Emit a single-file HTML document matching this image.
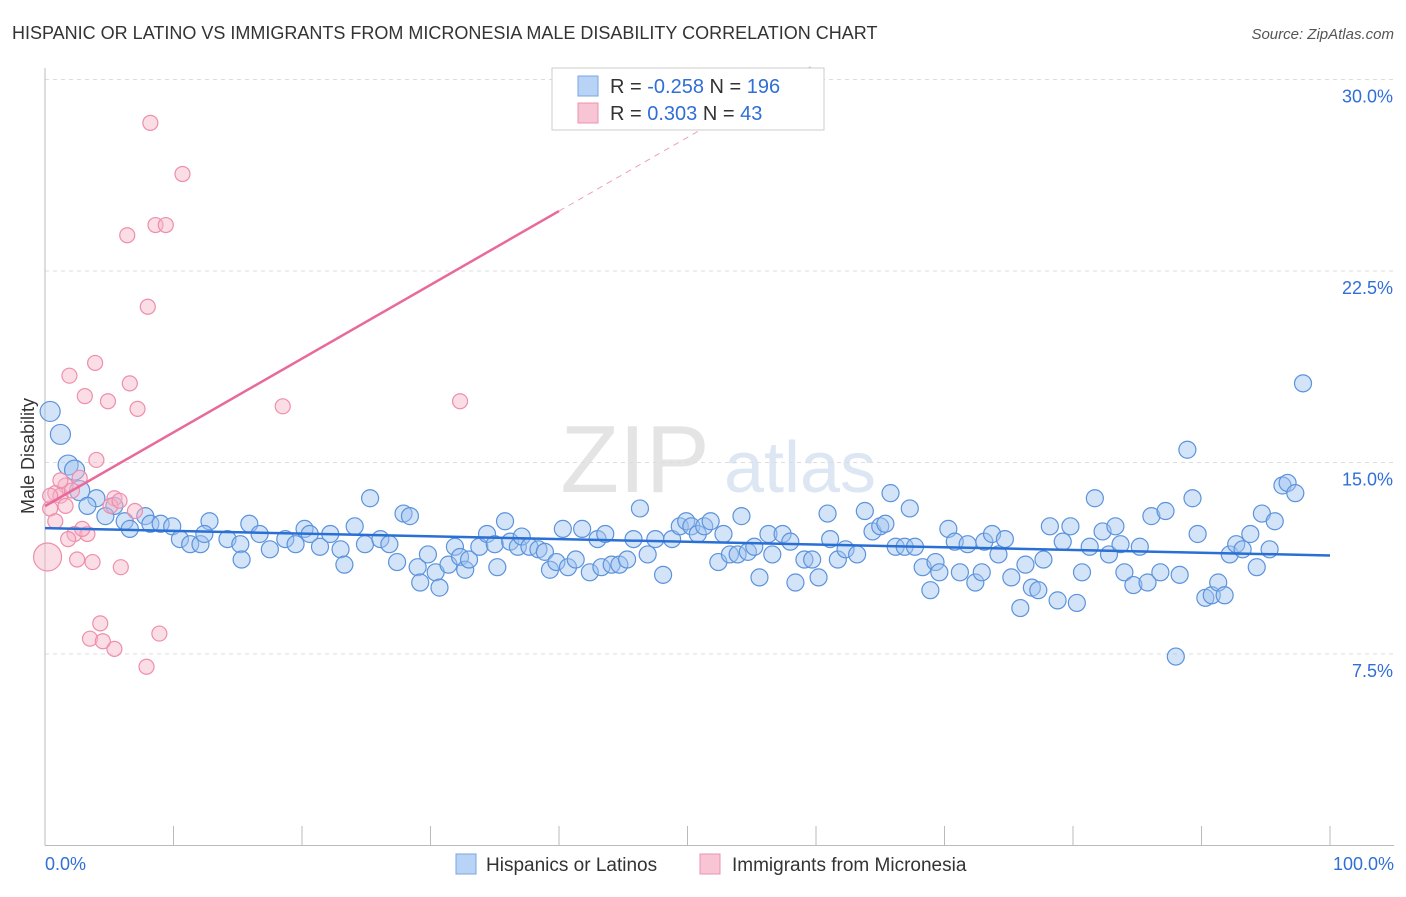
<!DOCTYPE html>
<html><head><meta charset="utf-8"><style>
body{margin:0;background:#fff;font-family:"Liberation Sans",sans-serif}
svg text{font-family:"Liberation Sans",sans-serif}
</style></head><body>
<svg id="chart" width="1406" height="892" xmlns="http://www.w3.org/2000/svg">
<text x="12" y="39" font-size="18" fill="#333">HISPANIC OR LATINO VS IMMIGRANTS FROM MICRONESIA MALE DISABILITY CORRELATION CHART</text>
<text x="1394" y="39" font-size="15" fill="#555" text-anchor="end" font-style="italic">Source: ZipAtlas.com</text>
<text x="635" y="492" font-size="96" fill="#e4e4e4" font-family="Liberation Serif" text-anchor="middle">ZIP</text>
<text x="800" y="492" font-size="72" fill="#dde6f3" text-anchor="middle">atlas</text>
<text transform="translate(34,456) rotate(-90)" font-size="18" fill="#333" text-anchor="middle">Male Disability</text>
<g id="grid"></g><g id="axes"></g><g id="marks"></g><g id="trend"></g>
<g>
<rect x="552" y="68" width="272" height="62" fill="#fff" stroke="#ccc"/>
<rect x="578" y="76" width="20" height="20" fill="#b9d3f6" stroke="#7aa6e0"/>
<rect x="578" y="103" width="20" height="20" fill="#f8c5d5" stroke="#ec93ae"/>
<text x="610" y="93" font-size="20" fill="#333">R = <tspan fill="#2f6fd6">-0.258</tspan>   N = <tspan fill="#2f6fd6">196</tspan></text>
<text x="610" y="120" font-size="20" fill="#333">R =  <tspan fill="#2f6fd6">0.303</tspan>   N =  <tspan fill="#2f6fd6"> 43</tspan></text>
</g>
<g>
<rect x="456" y="854" width="20" height="20" fill="#b9d3f6" stroke="#7aa6e0"/>
<text x="486" y="871" font-size="19" fill="#333">Hispanics or Latinos</text>
<rect x="700" y="854" width="20" height="20" fill="#f8c5d5" stroke="#ec93ae"/>
<text x="732" y="871" font-size="19" fill="#333">Immigrants from Micronesia</text>
</g>
</svg>
<script>
const yTicks=[7.5,15,22.5,30];
const yTickLabels=["7.5%","15.0%","22.5%","30.0%"];
const xTickLabels=["0.0%","100.0%"];
const pinkX=[8.2,10.7,6.4,8.6,9.4,8.0,3.9,1.9,6.6,3.1,4.9,7.2,18.5,32.3,4.0,2.7,1.6,0.8,1.2,5.4,0.4,1.6,7.0,0.8,2.3,3.3,1.8,0.2,2.5,3.7,5.9,4.3,3.5,5.4,4.5,8.9,7.9,1.2,2.1,0.4,5.1,5.8,2.9];
const pinkY=[28.3,26.3,23.9,24.3,24.3,21.1,18.9,18.4,18.1,17.6,17.4,17.1,17.2,17.4,15.1,14.4,14.1,13.8,13.7,13.6,13.2,13.3,13.1,12.7,12.2,12.2,12.0,11.3,11.2,11.1,10.9,8.7,8.1,7.7,8.0,8.3,7.0,14.3,13.9,13.7,13.3,13.5,12.4];
const blueX=[0.4,1.2,1.8,2.3,2.7,4.0,3.3,5.4,4.7,6.2,7.8,6.6,8.2,9.0,9.9,10.5,11.3,12.1,12.8,12.4,14.2,15.2,15.3,15.9,16.7,17.5,18.7,19.5,20.2,20.6,21.4,22.2,23.0,23.3,24.1,24.9,25.3,26.1,26.8,27.4,27.9,28.4,29.0,29.2,29.8,30.4,30.7,31.4,31.9,32.3,32.7,33.0,33.8,34.4,35.0,35.2,35.8,36.2,36.8,37.1,37.7,38.4,38.9,39.3,39.8,40.3,40.7,41.3,41.8,42.4,43.0,43.6,43.3,44.1,44.7,45.3,45.8,46.3,46.9,47.5,48.1,48.8,49.4,49.9,50.3,50.8,51.3,51.8,52.4,52.8,53.3,53.9,54.2,54.7,55.2,55.6,56.3,56.6,57.4,58.0,58.4,59.1,59.7,60.2,60.9,61.1,61.7,62.3,63.2,63.8,64.4,65.0,65.4,65.8,66.2,66.9,67.3,67.7,68.3,68.9,69.3,69.6,70.3,70.8,71.2,71.8,72.4,72.9,73.1,73.7,74.2,74.7,75.2,75.9,76.3,76.8,77.3,77.7,78.2,78.8,79.2,79.8,80.3,80.7,81.3,81.7,82.3,82.8,83.3,83.7,84.0,84.7,85.2,85.8,86.1,86.8,87.2,88.0,88.3,88.9,89.3,89.7,90.3,90.8,91.3,91.8,92.2,92.7,93.2,93.8,94.3,94.7,95.7,96.3,96.7,97.3,95.3,97.9];
const blueY=[17.0,16.1,14.9,14.7,13.9,13.6,13.3,13.3,12.9,12.7,12.9,12.4,12.6,12.6,12.5,12.0,11.8,11.8,12.7,12.2,12.0,11.8,11.2,12.6,12.2,11.6,12.0,11.8,12.4,12.2,11.7,12.2,11.6,11.0,12.5,11.8,13.6,12.0,11.8,11.1,13.0,12.9,10.9,10.3,11.4,10.7,10.1,11.0,11.7,11.3,10.8,11.2,11.7,12.2,11.8,10.9,12.7,11.9,11.7,12.1,11.7,11.6,11.5,10.8,11.1,12.4,10.9,11.2,12.4,10.7,12.0,12.2,10.9,11.0,11.0,11.2,12.0,13.2,11.4,12.0,10.6,12.0,12.5,12.7,12.5,12.2,12.5,12.7,11.1,12.2,11.4,11.4,12.9,11.5,11.7,10.5,12.2,11.4,12.2,11.9,10.3,11.2,11.2,10.5,13.0,12.0,11.2,11.6,11.4,13.1,12.3,12.5,12.6,13.8,11.7,11.7,13.2,11.7,10.9,10.0,11.1,10.7,12.4,11.9,10.7,11.8,10.3,10.7,11.9,12.2,11.4,12.0,10.5,9.3,11.0,10.1,10.0,11.2,12.5,9.6,11.9,12.5,9.5,10.7,11.7,13.6,12.3,11.4,12.5,11.8,10.7,10.2,11.7,10.3,12.9,10.7,13.1,7.4,10.6,15.5,13.6,12.2,9.7,9.8,10.3,9.8,11.4,11.8,11.6,12.2,10.9,13.0,12.7,14.1,14.2,13.8,11.6,18.1];
const X0=45,X1=1330,YB=845.5,YPX=191.5/7.5;
const sx=v=>X0+(X1-X0)*v/100, sy=v=>YB-v*YPX;
const NS="http://www.w3.org/2000/svg";
function mk(p,t,a){const e=document.createElementNS(NS,t);for(const k in a)e.setAttribute(k,a[k]);document.getElementById(p).appendChild(e);return e;}
yTicks.forEach((t,i)=>{
 const l=mk('grid','line',{x1:X0,x2:1394,y1:sy(t),y2:sy(t),stroke:'#ddd','stroke-dasharray':'4,4'});
 
 
 const tx=mk('grid','text',{x:1393,y:sy(t)+23,'font-size':18,fill:'#2f6fd6','text-anchor':'end'});
 tx.textContent=yTickLabels[i];
 
 
});
const ax=mk('axes','line',{x1:X0,x2:X0,y1:68,y2:YB,stroke:'#bbb'});


const bx=mk('axes','line',{x1:X0,x2:1394,y1:YB,y2:YB,stroke:'#bbb'});


for(let i=0;i<=10;i++){const t=mk('axes','line',{x1:sx(i*10),x2:sx(i*10),y1:826,y2:YB,stroke:'#bbb'});
 
 }
[[0,45,'start'],[1,1394,'end']].forEach(([i,x,a])=>{const t=mk('axes','text',{x:x,y:870,'font-size':18,fill:'#2f6fd6','text-anchor':a});t.textContent=xTickLabels[i];
 
 });
blueX.forEach((x,i)=>{const c=mk('marks','circle',{cx:sx(x),cy:sy(blueY[i]),r:x<3?10:8.5,fill:'rgba(160,195,240,0.45)',stroke:'#5b93dc','stroke-width':1.2});
 
 });
pinkX.forEach((x,i)=>{const c=mk('marks','circle',{cx:sx(x),cy:sy(pinkY[i]),r:i==27?14:7.5,fill:'rgba(246,180,200,0.45)',stroke:'#ee8eac','stroke-width':1.2});
 
 });
function reg(xs,ys){const n=xs.length;let mx=0,my=0;xs.forEach((x,i)=>{mx+=x;my+=ys[i]});mx/=n;my/=n;let a=0,b=0;xs.forEach((x,i)=>{a+=(x-mx)*(ys[i]-my);b+=(x-mx)*(x-mx)});const s=a/b;return[s,my-s*mx];}
const [bs,bi]=reg(blueX,blueY);
const bl=mk('trend','line',{x1:sx(0),y1:sy(bi),x2:sx(100),y2:sy(bi+bs*100),stroke:'#2a6fd4','stroke-width':2.5});


const [ps,pi]=reg(pinkX,pinkY);
const pEnd=40, xTop=Math.min(100,(30.5-pi)/ps);
const pl=mk('trend','line',{x1:sx(0),y1:sy(pi),x2:sx(pEnd),y2:sy(pi+ps*pEnd),stroke:'#e8699a','stroke-width':2.5});


const pd=mk('trend','line',{x1:sx(pEnd),y1:sy(pi+ps*pEnd),x2:sx(xTop),y2:sy(pi+ps*xTop),stroke:'#eea0bb','stroke-width':1,'stroke-dasharray':'6,5'});


</script>
</body></html>
